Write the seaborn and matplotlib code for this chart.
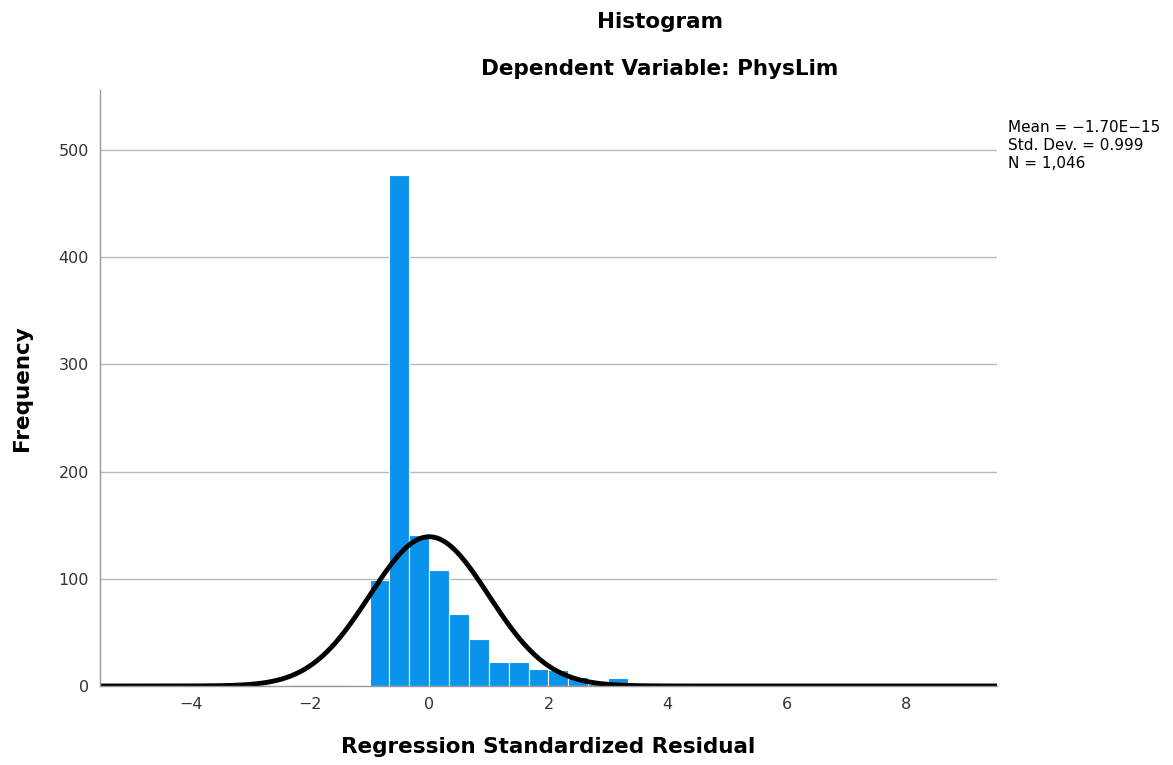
import numpy as np
import pandas as pd
import matplotlib
matplotlib.use("Agg")
import matplotlib.pyplot as plt
import seaborn as sns

# ---- data ----
bin_width = 1 / 3
bin_left_edges = [-2.6667, -1.3333, -1.0, -0.6667, -0.3333, 0.0, 0.3333, 0.6667,
                  1.0, 1.3333, 1.6667, 2.0, 2.3333, 2.6667, 3.0, 3.3333, 3.6667,
                  4.0, 5.3333, 7.0]
bin_counts = [1, 1, 99, 477, 141, 108, 67, 44,
              22, 22, 16, 15, 8, 2, 7, 3, 1,
              3, 2, 2]
stat_mean = -1.70e-15
stat_sd = 0.999
stat_n = 1046
x_ticks = [-4, -2, 0, 2, 4, 6, 8]
y_ticks = [0, 100, 200, 300, 400, 500]

title_text = "Histogram"
subtitle_text = "Dependent Variable: PhysLim"
x_label = "Regression Standardized Residual"
y_label = "Frequency"
stats_text = "Mean = \u22121.70E\u221215\nStd. Dev. = 0.999\nN = 1,046"

# ---- build frames ----
df = pd.DataFrame({
    "center": np.array(bin_left_edges) + bin_width / 2,
    "count": np.array(bin_counts, dtype=float),
})

xs = np.linspace(-5.55, 9.55, 600)
pdf = np.exp(-0.5 * ((xs - stat_mean) / stat_sd) ** 2) / (stat_sd * np.sqrt(2 * np.pi))
curve = pd.DataFrame({"x": xs, "y": stat_n * bin_width * pdf})

# ---- plot ----
sns.set_style("white")
plt.rcParams["font.family"] = ["DejaVu Sans"]

fig = plt.figure(figsize=(11.73, 7.65), dpi=100)
ax = fig.add_axes([100 / 1173, 1 - 686 / 765, (997 - 100) / 1173, (686 - 90) / 765])

ax.set_axisbelow(True)
ax.yaxis.grid(True, color="#b8b8b8", linewidth=1.0)
ax.xaxis.grid(False)

sns.histplot(data=df, x="center", weights="count", binwidth=bin_width,
             binrange=(-6.0, 10.0), ax=ax,
             color="#0a93ec", alpha=1.0, edgecolor="white", linewidth=0.8)
sns.lineplot(data=curve, x="x", y="y", ax=ax, color="black", linewidth=3.5)

ax.set_xlim(-5.52, 9.52)
ax.set_ylim(0, 556)
ax.set_xticks(x_ticks)
ax.set_yticks(y_ticks)
ax.tick_params(axis="both", length=0, labelsize=11.5, labelcolor="#333333", pad=8)

for side in ["top", "right"]:
    ax.spines[side].set_visible(False)
for side in ["left", "bottom"]:
    ax.spines[side].set_color("#999999")
    ax.spines[side].set_linewidth(1.0)

ax.set_xlabel(x_label, fontsize=15.5, fontweight="bold", labelpad=18, color="black")
ax.set_ylabel(y_label, fontsize=15.5, fontweight="bold", labelpad=19, color="black")

fig.text(660 / 1173, 1 - 22 / 765, title_text, ha="center", va="center",
         fontsize=15.5, fontweight="bold", color="black")
fig.text(660 / 1173, 1 - 69 / 765, subtitle_text, ha="center", va="center",
         fontsize=15.5, fontweight="bold", color="black")
fig.text(1008 / 1173, 1 - 120 / 765, stats_text, ha="left", va="top",
         fontsize=11, color="black", linespacing=1.25)

fig.savefig("out.png", dpi=100, facecolor="white")
